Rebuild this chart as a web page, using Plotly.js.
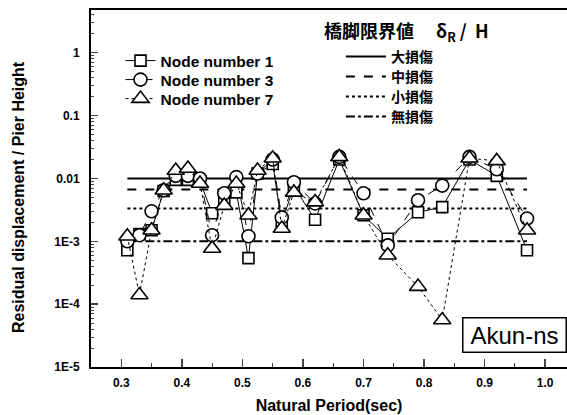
<!DOCTYPE html>
<html><head><meta charset="utf-8">
<script src="https://cdn.plot.ly/plotly-3.0.1.min.js"></script>
<style>html,body{margin:0;padding:0;background:#fff;}#chart{width:567px;height:415px;}</style>
</head><body><div id="chart"></div>
<script>
const periods = [0.31,0.33,0.35,0.37,0.39,0.41,0.43,0.45,0.47,0.49,0.51,0.525,0.55,0.565,0.585,0.62,0.66,0.70,0.74,0.79,0.83,0.875,0.92,0.97];
const node1 = [7.2e-4,1.3e-3,1.5e-3,6.3e-3,9.5e-3,9.5e-3,9.0e-3,2.8e-3,4.5e-3,6.0e-3,5.4e-4,0.012,0.017,2.0e-3,7.5e-3,2.2e-3,0.020,2.6e-3,1.1e-3,2.9e-3,3.5e-3,0.020,0.011,7.2e-4];
const node3 = [1.0e-3,1.25e-3,3.0e-3,6.5e-3,0.011,0.011,0.010,1.25e-3,5.8e-3,0.0105,1.2e-3,0.012,0.020,2.4e-3,8.7e-3,4.0e-3,0.022,5.8e-3,8.6e-4,4.5e-3,7.7e-3,0.022,0.014,2.3e-3];
const node7 = [1.2e-3,1.4e-4,1.5e-3,6.5e-3,0.0134,0.0144,8.3e-3,7.7e-4,3.7e-3,8.3e-3,2.6e-3,0.0134,0.021,1.6e-3,6.0e-3,4.2e-3,0.022,2.6e-3,6.0e-4,1.9e-4,5.6e-5,0.021,0.019,1.5e-3];
const nodeNames = ["Node number 1","Node number 3","Node number 7"];
const limitNames = ["大損傷","中損傷","小損傷","無損傷"];
const limitValues = [0.01, 1/150, 1/300, 0.001];
const limitSpan = [0.31, 0.97];
const yTickVals = [1e-5,1e-4,1e-3,0.01,0.1,1];
const yTickText = ["1E-5","1E-4","1E-3","0.01","0.1","1"];
const limitTitle = "橋脚限界値　 δ<sub>R</sub>&nbsp;/&nbsp;&nbsp;H";
const panelLabel = "Akun-ns";
const xTitle = "Natural Period(sec)";
const yTitle = "Residual displacement / Pier Height";

const cjk = '"Noto Sans CJK JP", "Liberation Sans", sans-serif';
const latin = '"Liberation Sans", Arial, sans-serif';
const H = 415, T = 10, PH = 357, L = 91, PW = 476;
const py = p => 1 - (p - T) / PH;
const px = p => (p - L) / PW;

const dashes = ["solid","dash","dot","dashdot"];
const traces = [];
const layout = {
  width:567, height:H,
  margin:{l:L, r:0, t:T, b:48},
  paper_bgcolor:"#fff", plot_bgcolor:"#fff",
  font:{family:latin, color:"#000"},
  showlegend:true,
  xaxis:{range:[0.25,1.036], dtick:0.1, tick0:0, tickformat:".1f", ticks:"inside", ticklen:8, tickwidth:1.5,
    showline:true, linewidth:2, linecolor:"#000", mirror:true, showgrid:false, zeroline:false,
    minor:{dtick:0.05, ticks:"inside", ticklen:4, tickwidth:1},
    tickfont:{size:12, weight:"bold"}, ticklabelstandoff:4,
    title:{text:xTitle, font:{size:16, weight:"bold"}, standoff:10}},
  yaxis:{type:"log", range:[-5,0.68], tickvals:yTickVals, ticktext:yTickText, ticks:"inside", ticklen:7, tickwidth:1.5,
    showline:true, linewidth:2, linecolor:"#000", showgrid:false, zeroline:false,
    minor:{ticks:"inside", ticklen:3, tickwidth:1, dtick:"D1"},
    tickfont:{size:12, weight:"bold"}, ticklabelstandoff:7},
  annotations:[
    {text:yTitle, xref:"paper", yref:"paper", x:px(18), y:py(197), xanchor:"center", yanchor:"middle", textangle:-90,
     showarrow:false, font:{size:16, weight:"bold"}},
    {text:limitTitle, xref:"paper", yref:"paper", x:px(322), y:py(31), xanchor:"left", yanchor:"middle",
     showarrow:false, font:{size:18, family:cjk, weight:"bold"}},
    {text:panelLabel, xref:"paper", yref:"paper", x:px(462), y:py(335), xanchor:"left", yanchor:"middle",
     width:98, height:29, showarrow:false, font:{size:24, family:latin}, bordercolor:"#000", borderwidth:1.5, bgcolor:"#fff", borderpad:2}
  ]
};

const limitRows = [57, 77, 97, 117];
limitValues.forEach((v,i)=>{
  const lg = "legend" + (4 + i);
  traces.push({x:limitSpan, y:[v,v], mode:"lines", name:limitNames[i], legend:lg,
    line:{color:"#000", width:2, dash:dashes[i]}, hoverinfo:"skip"});
  layout[lg] = {x:0.525, y:py(limitRows[i]), xanchor:"left", yanchor:"middle", bgcolor:"rgba(0,0,0,0)", borderwidth:0,
    font:{size:14, family:cjk, weight:"bold"}, itemwidth:40};
});
const nodeData=[node1,node3,node7];
const syms=["square","circle","triangle-up"];
const sizes=[11,13,15];
const nodeDash=["solid","dash","dot"];
const nodeRows=[61, 80, 99];
nodeData.forEach((d,i)=>{
  const lg = i === 0 ? "legend" : "legend" + (i + 1);
  traces.push({x:periods, y:d, mode:"lines+markers", name:nodeNames[i], legend:lg,
    line:{color:"#000", width:1, dash:nodeDash[i]},
    marker:{symbol:syms[i], size:sizes[i], color:"#fff", line:{color:"#000", width:1.6}}});
  layout[lg] = {x:0.062, y:py(nodeRows[i]), xanchor:"left", yanchor:"middle", bgcolor:"rgba(0,0,0,0)", borderwidth:0,
    font:{size:15.5, family:latin, weight:"bold"}, itemwidth:30};
});
Plotly.newPlot("chart", traces, layout, {staticPlot:true, displayModeBar:false});
</script></body></html>
